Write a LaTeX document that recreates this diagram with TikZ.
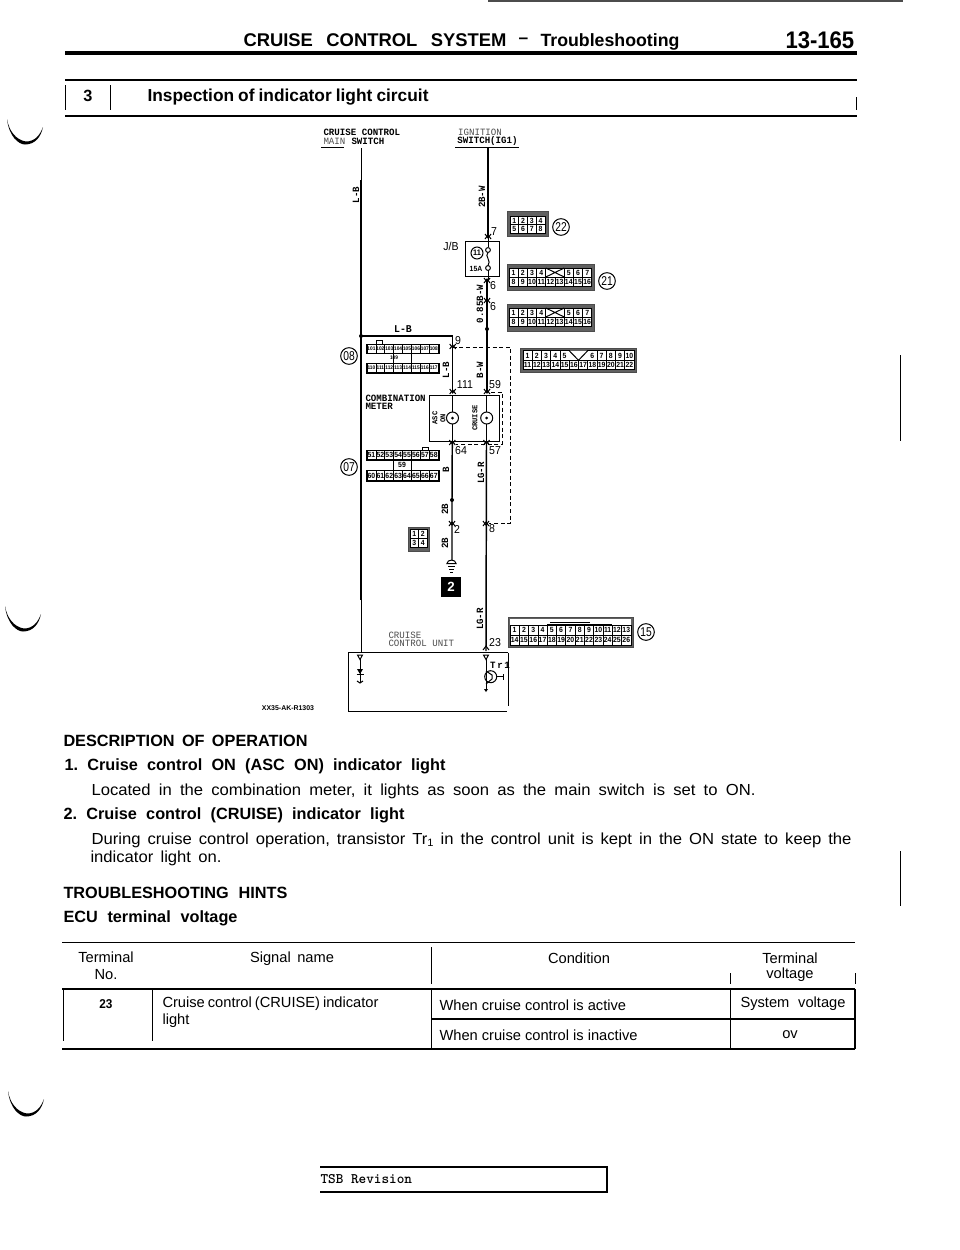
\documentclass[tikz,border=0pt]{standalone}
\usepackage{fontspec}
\setmainfont{Liberation Sans}
\newfontfamily\narrowfont[FakeStretch=0.92]{Liberation Sans}
\newfontfamily\widefont[FakeStretch=1.04]{Liberation Sans}
\newfontfamily\partfont[FakeStretch=0.8]{Liberation Sans}
\newfontfamily\wirefont[FakeStretch=0.95]{Liberation Mono}
\newlength\pxu
\setlength\pxu{0.75pt}
\newcommand{\fitline}[2]{\makebox[#1\pxu][s]{\frenchspacing #2}}

\tikzset{every picture/.style={line width=0.75pt},
	pagetext/.style={anchor=west,inner sep=0pt,font=\widefont\fontsize{12}{14}\selectfont},
	headtext/.style={anchor=west,inner sep=0pt,font=\bfseries\fontsize{12.2}{14}\selectfont},
	celltext/.style={inner sep=0pt,font=\fontsize{11}{13}\selectfont},
	wiretext/.style={inner sep=0pt,font=\wirefont\bfseries\fontsize{7.2}{8}\selectfont},
	lightwire/.style={inner sep=0pt,text=black!70,font=\wirefont\fontsize{7.2}{8}\selectfont},
	pinnum/.style={inner sep=0pt,font=\narrowfont\fontsize{8.6}{9}\selectfont},
	pincell/.style={draw,fill=white,inner sep=0pt,line width=0.5pt,font=\narrowfont\bfseries\fontsize{5.6}{6}\selectfont},
	tinycell/.style={pincell,font=\narrowfont\bfseries\fontsize{3.9}{4}\selectfont},
	partnum/.style={draw,circle,inner sep=0pt,minimum size=12.5pt,font=\partfont\fontsize{9.6}{10}\selectfont},
	dashwire/.style={dash pattern={on 3pt off 2pt},line width=0.6pt},
	mainwire/.style={line width=1.1pt},
	framecolor/.style={fill=black!62,draw=black!70},
}

% row of pin cells: name, left, middle y, cell width, cell height, numbers
\newcommand{\pinrow}[7][pincell]{
	\foreach \pinlabel [count=\pinidx from 0] in {#7} {
		\ifx\pinlabel\empty\else
		\draw ({#3+(\pinidx+0.5)*#5},#4) node [#1,minimum width=#5*0.75pt,minimum height=#6*0.75pt] (#2\pinidx) {\pinlabel};
		\fi
	}
}
% mating mark on a wire
\newcommand{\matemark}[2]{
	\draw (#1-3,#2+3) -- (#1,#2-1) -- (#1+3,#2+3) ;
	\draw (#1-3,#2-2) -- (#1,#2+2) -- (#1+3,#2-2) ;
}
% curved binder mark at the page edge
\newcommand{\bindmark}[2]{
	\fill (#1,#2) .. controls (#1+2,#2+18) and (#1+12,#2+25.5) .. (#1+18,#2+25.5) .. controls (#1+28,#2+25.5) and (#1+34,#2+18) .. (#1+36,#2+8) .. controls (#1+33,#2+16) and (#1+28,#2+22.5) .. (#1+19,#2+22.5) .. controls (#1+9,#2+21) and (#1+2,#2+12) .. (#1,#2) -- cycle ;
}

\begin{document}
\begin{tikzpicture}[x=0.75pt,y=0.75pt,yscale=-1]
	\useasboundingbox (0,0) rectangle (960,1250);

	%Page head
	\fill[black!70] (488,0) rectangle (903,2);
	\draw[line width=2.4pt] (65,53) -- (857,53) ;
	\draw[line width=1.2pt] (65,80) -- (857,80) ;
	\draw[line width=1.2pt] (65,116) -- (857,116) ;
	\draw (65,85) -- (65,110) ;
	\draw (110,85) -- (110,110) ;
	\draw (856,97) -- (856,110) ;
	\draw (900,355) -- (900,441) ;
	\draw (900,851) -- (900,906) ;
	\bindmark{7}{119}
	\bindmark{5}{606}
	\bindmark{8}{1091}

	% Text Node
	\draw (243,40) node [headtext,font=\bfseries\fontsize{13.8}{15}\selectfont] (headtitle) {\fitline{263}{CRUISE CONTROL SYSTEM}};
	% Text Node
	\draw (518,41) node [headtext,font=\bfseries\fontsize{13}{15}\selectfont] (headdash) {–};
	% Text Node
	\draw (540,41.5) node [headtext,font=\bfseries\fontsize{13.3}{15}\selectfont] (headsub) {Troubleshooting};
	% Text Node
	\draw (785,40) node [headtext,font=\narrowfont\bfseries\fontsize{18}{20}\selectfont] (headpage) {\fitline{72}{13-165}};
	% Text Node
	\draw (88,96) node [headtext,anchor=center] (stepnum) {3};
	% Text Node
	\draw (147,97) node [headtext,font=\bfseries\fontsize{13}{15}\selectfont] (steptitle) {\fitline{281}{Inspection of indicator light circuit}};

	%Wire names at the top
	\coordinate (mainsw) at (361,148);
	\coordinate (mainthick) at (361,180);
	\coordinate (mainjn) at (361,336);
	\coordinate (mainthin) at (361,600);
	\coordinate (mainend) at (361,652);
	\coordinate (ignsw) at (488,148);
	\coordinate (fuseup) at (488,237);
	\coordinate (fusedn) at (487,280);
	\coordinate (fedjn) at (487,329);
	\coordinate (lampbtop) at (487,392);
	\coordinate (lampatop) at (452.7,392);
	\coordinate (dashtop) at (452.7,347);
	\coordinate (dashcnr) at (510.7,347);
	\coordinate (dashlow) at (510.7,523);
	\coordinate (dashend) at (489,523);
	\coordinate (innertop) at (491,392);
	\coordinate (innercnr) at (502,392);
	\coordinate (innerlow) at (502,444);
	\coordinate (innerend) at (456,444);
	\coordinate (lampalow) at (452.3,441);
	\coordinate (lampblow) at (486.5,441);
	\coordinate (gndjn) at (452,500);
	\coordinate (gndend) at (452,560);
	\coordinate (unitin) at (486,651);
	\coordinate (swcnr) at (452.7,336);

	\draw (mainsw) -- (mainthick) ;
	\draw [line width=1.5pt] (mainthick) -- (mainthin) ;
	\draw (mainthin) -- (mainend) ;
	\draw [mainwire] (ignsw) -- (fuseup) ;
	\draw [mainwire] (fusedn) -- (fedjn) -- (lampbtop) ;
	\draw [mainwire] (mainjn) -- (swcnr) -- (lampatop) ;
	\draw [mainwire] (lampalow) -- (gndjn) -- (gndend) ;
	\draw [mainwire] (lampblow) -- (unitin) ;
	\draw [dashwire] (dashtop) -- (dashcnr) -- (dashlow) -- (dashend) ;
	\draw [dashwire] (innertop) -- (innercnr) -- (innerlow) -- (innerend) ;

	\fill (mainjn) circle (2) ;
	\fill (fedjn) circle (2) ;
	\fill (gndjn) circle (2) ;

	\matemark{488}{236}
	\matemark{487}{280}
	\matemark{487}{300}
	\matemark{452.7}{346}
	\matemark{452.7}{391}
	\matemark{487}{391}
	\matemark{452.3}{442}
	\matemark{486.5}{442}
	\matemark{452}{523}
	\matemark{486}{523}
	\draw (483,650) -- (486,646) -- (489,650) ;

	%Fuse box
	\draw (465,241.7) rectangle (499.5,276.7) ;
	\draw (488,237) -- (488,247) ;
	\draw (488,250) circle (2.4) ;
	\draw (488,252.4) .. controls (484,256) and (492,261) .. (488,265.6) ;
	\draw (488,268) circle (2.4) ;
	\draw (488,270.4) -- (488,280) ;

	%Meter box
	\draw (429,395) rectangle (499,441) ;
	\draw (452.5,395) -- (452.5,412) ;
	\draw (452.5,424) -- (452.5,441) ;
	\draw (486.7,395) -- (486.7,412) ;
	\draw (486.7,424) -- (486.7,441) ;
	\draw (452.5,418) circle (6) ;
	\fill (452.5,418) circle (1.5) ;
	\draw (486.7,418) circle (6) ;
	\fill (486.7,418) circle (1.5) ;

	%Connector frames
	\filldraw [framecolor] (507,211) rectangle (548,236) ;
	\filldraw [framecolor] (507,264) rectangle (594,290) ;
	\filldraw [framecolor] (507,304) rectangle (594,331) ;
	\filldraw [framecolor] (520,348) rectangle (636,372) ;
	\filldraw [framecolor] (408,527) rectangle (429,551) ;
	\filldraw [framecolor] (508,617) rectangle (633,647) ;
	\fill [white] (510,619) rectangle (631,625) ;

	\pinrow{jt}{510}{220.5}{8.75}{8.5}{1,2,3,4}
	\pinrow{jb}{510}{229}{8.75}{8.5}{5,6,7,8}
	\pinrow{ka}{509}{272.5}{9.2}{9}{1,2,3,4,,,5,6,7}
	\pinrow{kb}{509}{281.5}{9.2}{9}{8,9,10,11,12,13,14,15,16}
	\pinrow{la}{509}{312.5}{9.2}{9}{1,2,3,4,,,5,6,7}
	\pinrow{lb}{509}{321.5}{9.2}{9}{8,9,10,11,12,13,14,15,16}
	\pinrow{ma}{523}{355.5}{9.25}{9.5}{1,2,3,4,5,,,6,7,8,9,10}
	\pinrow{mb}{523}{365}{9.25}{9.5}{11,12,13,14,15,16,17,18,19,20,21,22}
	\pinrow{na}{410}{534}{8.5}{9}{1,2}
	\pinrow{nb}{410}{543}{8.5}{9}{3,4}
	\pinrow{pa}{510}{630}{9.3}{10}{1,2,3,4,5,6,7,8,9,10,11,12,13}
	\pinrow{pb}{510}{640}{9.3}{10}{14,15,16,17,18,19,20,21,22,23,24,25,26}
	\draw [line width=1.4pt] (547,625) -- (612,625) ;
	\draw (550,622) -- (590,622) ;

	%X and V marks in the blank pins
	\draw [fill=white] (545.8,268) rectangle (564.2,277) ;
	\draw (545.8,268) -- (564.2,277) (545.8,277) -- (564.2,268) ;
	\draw [fill=white] (545.8,308) rectangle (564.2,317) ;
	\draw (545.8,308) -- (564.2,317) (545.8,317) -- (564.2,308) ;
	\fill [white] (569.2,350.7) rectangle (587.7,360.3) ;
	\draw (569.2,350.7) -- (578.5,360.3) -- (587.7,350.7) ;

	%Connectors with tabs
	\draw (366,344) rectangle (439,353) ;
	\draw (366,363) rectangle (439,373) ;
	\pinrow[tinycell]{qa}{367}{348.5}{8.9}{9}{101,102,103,104,105,106,107,108}
	\pinrow[tinycell]{qb}{367}{368}{8.9}{9.5}{110,111,112,113,114,115,116,117}
	\draw (393,353) -- (393,363) ;
	\draw (411,353) -- (411,363) ;
	\draw (376,344) -- (376,340) -- (382,340) -- (382,344) ;
	\draw (366,450) rectangle (439,460) ;
	\draw (366,470) rectangle (439,481) ;
	\pinrow{ra}{367}{455}{8.9}{9.5}{51,52,53,54,55,56,57,58}
	\pinrow{rb}{367}{475.5}{8.9}{10}{60,61,62,63,64,65,66,67}
	\draw (393,460) -- (393,470) ;
	\draw (411,460) -- (411,470) ;
	\draw (422,450) -- (422,447) -- (428,447) -- (428,450) ;

	%Ground
	\draw [fill=white] (447,563.5) -- (456,563.5) .. controls (456,559) and (447,559) .. (447,563.5) -- cycle ;
	\draw (448,566) -- (455,566) ;
	\draw (449,569) -- (454,569) ;
	\draw (450,572) -- (453,572) ;

	%Control unit
	\draw [line width=1pt] (348,652.7) -- (508,652.7) ;
	\draw (348,652.7) -- (348,711.7) ;
	\draw [line width=1pt] (348,711.7) -- (507,711.7) ;
	\draw (508,652.7) -- (508,706) ;
	\draw (357.5,655) -- (362.5,655) -- (360,659.5) -- cycle ;
	\draw (483.5,655) -- (488.5,655) -- (486,659.5) -- cycle ;
	\draw (360,659) -- (360,683) ;
	\fill (357,669) -- (363,669) -- (360,674) -- cycle ;
	\draw (356.5,674.5) -- (363.5,674.5) ;
	\draw (357,681) -- (360,683) -- (363,681) ;
	\draw (486,659) -- (486,690) ;
	\draw (490.7,676.7) circle (6) ;
	\draw (496.7,676.7) -- (503,676.7) ;
	\draw (503,674) -- (503,679.5) ;
	\draw (486,671) -- (492,675) -- (492,679) -- (486,684) ;
	\fill (484,689) -- (488,689) -- (486,692) -- cycle ;

	%Wire labels
	\draw [line width=1.1pt] (321,147.3) -- (344,147.3) ;
	\draw [line width=1.1pt] (455,147.3) -- (519,147.3) ;
	% Text Node
	\draw (323,132) node [wiretext,anchor=west] (maintitle) {CRUISE CONTROL};
	% Text Node
	\draw (323,141) node [lightwire,anchor=west] (mainlabel) {MAIN};
	% Text Node
	\draw (351,141) node [wiretext,anchor=west] (swlabel) {SWITCH};
	% Text Node
	\draw (480,132.5) node [lightwire] (ignlabel) {IGNITION};
	% Text Node
	\draw (487.5,141.5) node [wiretext] (igswlabel) {SWITCH(IG1)};
	% Text Node
	\draw (356,195) node [wiretext,rotate=90] (lb1) {L-B};
	% Text Node
	\draw (482,197) node [wiretext,rotate=90] (bw1) {2B-W};
	% Text Node
	\draw (494,232) node [pinnum] (pin7) {7};
	% Text Node
	\draw (451,246) node [pinnum] (jblabel) {J/B};
	% Text Node
	\draw (493,286) node [pinnum] (pin6a) {6};
	% Text Node
	\draw (493,307) node [pinnum] (pin6b) {6};
	% Text Node
	\draw (480,304) node [wiretext,rotate=90] (bw2) {0.85B-W};
	% Text Node
	\draw (403,329.5) node [wiretext,font=\wirefont\bfseries\fontsize{7.8}{8}\selectfont] (lb2) {L-B};
	% Text Node
	\draw (458,341) node [pinnum] (pin9) {9};
	% Text Node
	\draw (446,370) node [wiretext,rotate=90] (lb3) {L-B};
	% Text Node
	\draw (480,370) node [wiretext,rotate=90] (bw3) {B-W};
	% Text Node
	\draw (465,385) node [pinnum] (pin111) {111};
	% Text Node
	\draw (495,385) node [pinnum] (pin59) {59};
	% Text Node
	\draw (365,398) node [wiretext,anchor=west] (metera) {COMBINATION};
	% Text Node
	\draw (365,406) node [wiretext,anchor=west] (meterb) {METER};
	% Text Node
	\draw (439,418) node [wiretext,rotate=90,align=center,font=\wirefont\bfseries\fontsize{5.6}{6}\selectfont] (asclabel) {ASC\\ON};
	% Text Node
	\draw (475,418) node [wiretext,rotate=90,font=\wirefont\bfseries\fontsize{5.6}{6}\selectfont] (cruiselabel) {CRUISE};
	% Text Node
	\draw (461,451) node [pinnum] (pin64) {64};
	% Text Node
	\draw (495,451) node [pinnum] (pin57) {57};
	% Text Node
	\draw (446,470) node [wiretext,rotate=90] (bwire) {B};
	% Text Node
	\draw (481,473) node [wiretext,rotate=90] (lgr1) {LG-R};
	% Text Node
	\draw (445,509) node [wiretext,rotate=90] (gw1) {2B};
	% Text Node
	\draw (457,529) node [pinnum] (pin2) {2};
	% Text Node
	\draw (492,529) node [pinnum] (pin8) {8};
	% Text Node
	\draw (445,543) node [wiretext,rotate=90] (gw2) {2B};
	% Text Node
	\draw (480,619) node [wiretext,rotate=90] (lgr2) {LG-R};
	% Text Node
	\draw (388,635) node [lightwire,anchor=west] (unita) {CRUISE};
	% Text Node
	\draw (388,643.5) node [lightwire,anchor=west] (unitb) {CONTROL UNIT};
	% Text Node
	\draw (495,643) node [pinnum] (pin23) {23};
	% Text Node
	\draw (500,665) node [wiretext] (trlabel) {T\,r\,1};
	% Text Node
	\draw (394,358) node [tinycell,draw=none,fill=none] (qmid) {109};
	% Text Node
	\draw (402,465) node [pincell,draw=none,fill=none] (rmid) {59};
	% Text Node
	\draw (476,269) node [pincell,draw=none,fill=none] (fuselabel) {15A};
	% Text Node
	\draw (477,253) node [partnum,minimum size=9pt,font=\narrowfont\bfseries\fontsize{6}{7}\selectfont] (fusenum) {11};
	% Text Node
	\draw (561,227) node [partnum] (num22) {22};
	% Text Node
	\draw (607,281) node [partnum] (num21) {21};
	% Text Node
	\draw (349,356) node [partnum] (num08) {08};
	% Text Node
	\draw (349,467) node [partnum] (num07) {07};
	% Text Node
	\draw (646,632) node [partnum] (num15) {15};
	% Text Node
	\draw (451,587) node [fill=black,text=white,inner sep=0pt,minimum size=15.5pt,font=\bfseries\fontsize{10}{10}\selectfont] (gndbox) {2};
	% Text Node
	\draw (288,708) node [inner sep=0pt,font=\bfseries\fontsize{5.2}{6}\selectfont] (drawnum) {XX35-AK-R1303};

	%Description text
	% Text Node
	\draw (63,741) node [headtext] (desca) {\fitline{244}{DESCRIPTION OF OPERATION}};
	% Text Node
	\draw (64,766) node [headtext] (descb) {\fitline{381}{1. Cruise control ON (ASC ON) indicator light}};
	% Text Node
	\draw (91,791) node [pagetext] (descc) {\fitline{664}{Located in the combination meter, it lights as soon as the main switch is set to ON.}};
	% Text Node
	\draw (63,815) node [headtext] (descd) {\fitline{341}{2. Cruise control (CRUISE) indicator light}};
	% Text Node
	\draw (91,840) node [pagetext] (desce) {\fitline{760}{During cruise control operation, transistor Tr{\raisebox{-2pt}{\fontsize{8}{9}\selectfont 1}} in the control unit is kept in the ON state to keep the}};
	% Text Node
	\draw (90,858) node [pagetext] (descf) {\fitline{131}{indicator light on.}};
	% Text Node
	\draw (63,893) node [headtext] (descg) {\fitline{224}{TROUBLESHOOTING HINTS}};
	% Text Node
	\draw (63,918) node [headtext] (desch) {\fitline{174}{ECU terminal voltage}};

	%Table
	\draw [line width=1.1pt] (62,942.3) -- (855,942.3) ;
	\draw [line width=1.1pt] (62,989) -- (855,989) ;
	\draw [line width=1.1pt] (431,1019) -- (855,1019) ;
	\draw [line width=1.5pt] (62,1048.7) -- (855,1048.7) ;
	\draw (431,947) -- (431,984) ;
	\draw (730,973) -- (730,984) ;
	\draw (855,973) -- (855,984) ;
	\draw (63,989) -- (63,1041) ;
	\draw (152,989) -- (152,1041) ;
	\draw (431,989) -- (431,1048.7) ;
	\draw (730,989) -- (730,1048.7) ;
	\draw [line width=1pt] (855,989) -- (855,1048.7) ;
	% Text Node
	\draw (106,957) node [celltext] (thterm) {Terminal};
	% Text Node
	\draw (106,975) node [celltext] (thno) {No.};
	% Text Node
	\draw (292,958.5) node [celltext] (thsig) {\fitline{84}{Signal name}};
	% Text Node
	\draw (579,958) node [celltext] (thcond) {Condition};
	% Text Node
	\draw (790,958) node [celltext] (thvolta) {Terminal};
	% Text Node
	\draw (790,975) node [celltext] (thvoltb) {voltage};
	% Text Node
	\draw (106,1004) node [celltext,font=\narrowfont\bfseries\fontsize{9.6}{11}\selectfont] (cellnum) {23};
	% Text Node
	\draw (162,1004) node [celltext,anchor=west] (cellsig) {\fitline{216}{Cruise control (CRUISE) indicator}};
	% Text Node
	\draw (162,1021) node [celltext,anchor=west] (celllight) {light};
	% Text Node
	\draw (439,1005) node [celltext,anchor=west] (cellact) {When cruise control is active};
	% Text Node
	\draw (793,1004) node [celltext] (cellsys) {\fitline{105}{System voltage}};
	% Text Node
	\draw (439,1035) node [celltext,anchor=west] (cellin) {When cruise control is inactive};
	% Text Node
	\draw (790,1035) node [celltext] (cellov) {ov};

	%Revision box
	\draw [line width=1pt] (320,1167) -- (607,1167) -- (607,1192) -- (320,1192) ;
	% Text Node
	\draw (320,1179) node [anchor=west,inner sep=0pt,font=\ttfamily\bfseries\fontsize{10.9}{12}\selectfont] (tsb) {TSB Revision};

\end{tikzpicture}
\end{document}
